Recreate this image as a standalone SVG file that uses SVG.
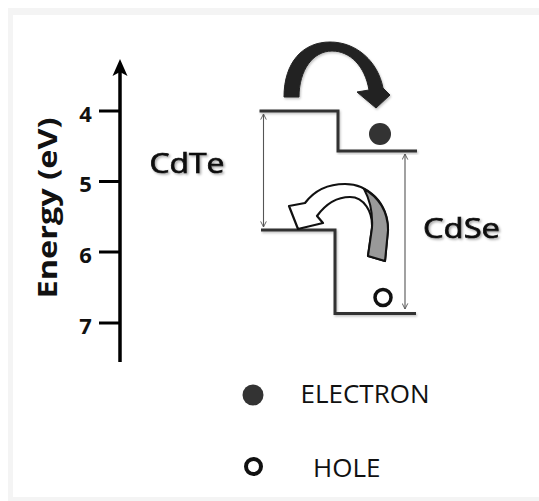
<svg xmlns="http://www.w3.org/2000/svg" width="539" height="501" viewBox="0 0 539 501">
  <defs>
    <filter id="soft" x="-20%" y="-20%" width="140%" height="140%">
      <feDropShadow dx="1.5" dy="1.5" stdDeviation="1.2" flood-color="#000" flood-opacity="0.35"/>
    </filter>
    <filter id="lineShadow" x="-10%" y="-10%" width="120%" height="120%">
      <feDropShadow dx="1" dy="1.5" stdDeviation="1" flood-color="#000" flood-opacity="0.25"/>
    </filter>
    <marker id="openHead" viewBox="0 0 10 10" refX="9" refY="5" markerWidth="7" markerHeight="7" orient="auto-start-reverse" markerUnits="userSpaceOnUse">
      <path d="M1,1 L9,5 L1,9" fill="none" stroke="#555" stroke-width="1.3"/>
    </marker>
  </defs>
  <style>
    .band { fill: none; stroke: #333; stroke-width: 3; stroke-linejoin: miter; }
    .gap { fill: none; stroke: #555; stroke-width: 1.1; }
    .tick { stroke: #000; stroke-width: 3; }
    .num { font-family: "Open Sans", "DejaVu Sans", sans-serif; font-weight: bold; font-size: 22px; fill: #111; text-anchor: middle; }
    .mat { font-family: "Open Sans", "DejaVu Sans", sans-serif; font-weight: normal; font-size: 27px; fill: #111; stroke: #111; stroke-width: 0.7; }
    .leg { font-family: "Open Sans", "Liberation Sans", sans-serif; font-size: 26px; fill: #111; }
  </style>

  <!-- background frame -->
  <rect x="8" y="8" width="531" height="493" fill="#f4f4f4"/>
  <rect x="13" y="15" width="526" height="482" fill="#ffffff"/>

  <!-- energy axis -->
  <g id="axis">
    <line x1="120" y1="70" x2="120" y2="362" stroke="#000" stroke-width="3.5"/>
    <path d="M120,59 L127.5,76 L120,72 L112.5,76 Z" fill="#000"/>
    <line class="tick" x1="99" y1="111" x2="120" y2="111"/>
    <line class="tick" x1="99" y1="181.5" x2="120" y2="181.5"/>
    <line class="tick" x1="99" y1="252" x2="120" y2="252"/>
    <line class="tick" x1="99" y1="323" x2="120" y2="323"/>
    <text class="num" x="85.5" y="121.5">4</text>
    <text class="num" x="85.5" y="192">5</text>
    <text class="num" x="85.5" y="262.5">6</text>
    <text class="num" x="85.5" y="333.5">7</text>
    <text transform="translate(56.5,208) rotate(-90)" font-family="'Open Sans', 'DejaVu Sans', sans-serif" font-weight="bold" font-size="26" fill="#111" text-anchor="middle" textLength="181" lengthAdjust="spacingAndGlyphs">Energy (eV)</text>
  </g>

  <!-- material labels -->
  <g id="cdte-label">
    <text class="mat" x="149.5" y="173" textLength="75" lengthAdjust="spacingAndGlyphs" filter="url(#soft)">CdTe</text>
  </g>
  <g id="cdse-label">
    <text class="mat" x="423" y="238" textLength="77" lengthAdjust="spacingAndGlyphs" filter="url(#soft)">CdSe</text>
  </g>

  <!-- band edges -->
  <g id="conduction-band" filter="url(#lineShadow)">
    <path class="band" d="M259.5,111 L338,111 L338,151 L417,151"/>
  </g>
  <g id="valence-band" filter="url(#lineShadow)">
    <path class="band" d="M261,230 L335,230 L335,313.5 L416,313.5"/>
  </g>

  <!-- connectors: band-gap arrows and transfer arrows -->
  <g id="connectors">
    <line class="gap" x1="263.5" y1="114" x2="263.5" y2="227" marker-start="url(#openHead)" marker-end="url(#openHead)"/>
    <line class="gap" x1="405" y1="154" x2="405" y2="309" marker-start="url(#openHead)" marker-end="url(#openHead)"/>

    <!-- electron transfer arrow (black) -->
    <path d="M284,97 C284,62 303,42 330,42 C357,42 378,62 383,88 L390,95 L376,108 L357,92 L369,90 C365,66 350,51 332,51 C313,51 299,70 299,97 Z" fill="#222" stroke="#222" stroke-width="1" stroke-linejoin="round" filter="url(#lineShadow)"/>

    <!-- hole transfer arrow (hollow ribbon) -->
    <path d="M305,203 L289,206 L298,229 L323,223 L317,216 C325,205 336,197 350,197 C364,197 373,212 372,228 L368,256 L385,261 L388,230 C388,203 368,184 345,184 C328,184 314,191 305,203 Z" fill="#fff" stroke="#111" stroke-width="2.2" stroke-linejoin="round"/>
    <path d="M364,189 C379,197 388,212 388,230 L385,261 L368,256 L372,228 C373,212 370,200 364,189 Z" fill="#999" stroke="#111" stroke-width="2" stroke-linejoin="round"/>
  </g>

  <!-- carriers -->
  <g id="electron">
    <circle cx="380" cy="134" r="11" fill="#333"/>
  </g>
  <g id="hole">
    <circle cx="383" cy="297.5" r="8" fill="none" stroke="#111" stroke-width="3.5"/>
  </g>

  <!-- legend -->
  <g id="legend-electron">
    <circle cx="253" cy="395" r="10.5" fill="#333"/>
    <text class="leg" x="300.5" y="403">ELECTRON</text>
  </g>
  <g id="legend-hole">
    <ellipse cx="253.5" cy="466.5" rx="7.5" ry="7.5" fill="none" stroke="#111" stroke-width="4"/>
    <text class="leg" x="313" y="477">HOLE</text>
  </g>
</svg>
